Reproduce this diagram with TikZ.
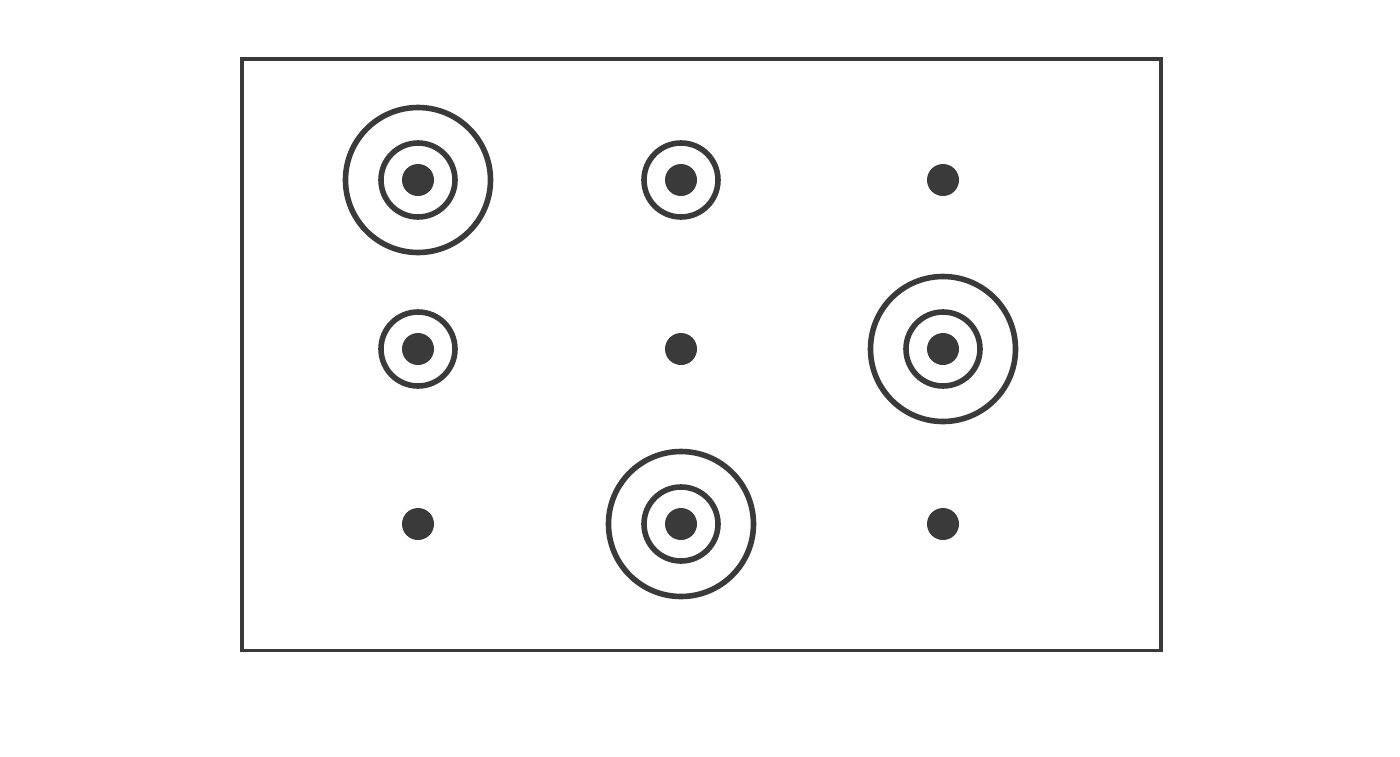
\documentclass[tikz,border=0pt]{standalone}
\begin{document}
\definecolor{ink}{HTML}{3A3A3A}
\begin{tikzpicture}[x=1pt,y=-1pt,
  ring/.style={draw=ink,line width=5.6pt,fill=none},
  dot/.style={fill=ink,draw=none},
  frame/.style={draw=ink,line width=3.8pt}]
\useasboundingbox (0,0) rectangle (1400,756);
\draw[frame] (242,59) rectangle (1161,650.5);
% dots
\foreach \n/\x/\y in {a/418/180,b/681/180,c/943/180,d/418/349,e/681/349,f/943/349,g/418/524,h/681/524,i/943/524}{
  \fill[dot] (\x,\y) circle[radius=16];
  \coordinate (\n) at (\x,\y);
}
% inner rings
\foreach \n in {a,b,d,f,h}{
  \draw[ring] (\n) circle[radius=37];
}
% outer rings
\foreach \n in {a,f,h}{
  \draw[ring] (\n) circle[radius=72.5];
}
\end{tikzpicture}
\end{document}
